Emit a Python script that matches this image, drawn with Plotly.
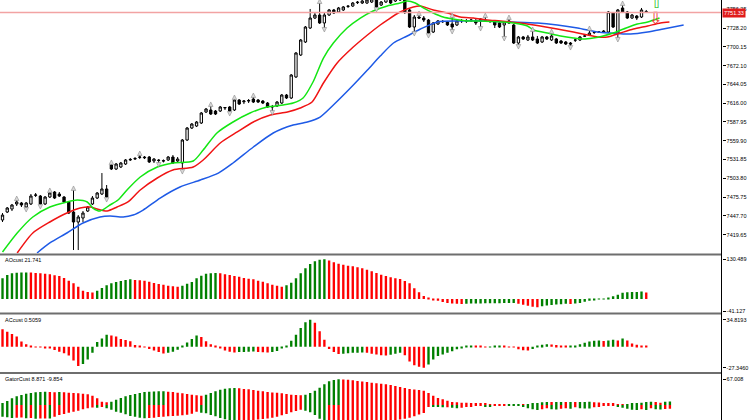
import plotly.graph_objects as go

# ---------------- price candles ----------------
opens = [7441.6, 7453.5, 7458.0, 7465.5, 7467.0, 7461.0, 7465.5, 7478.4, 7477.4, 7465.5,
         7475.9, 7483.4, 7480.4, 7475.9, 7468.5, 7453.5, 7438.6, 7444.6, 7455.0, 7465.5,
         7474.4, 7480.4, 7487.9, 7523.7, 7517.7, 7520.7, 7525.2, 7531.2, 7532.6, 7535.0,
         7535.6, 7535.6, 7529.7, 7531.0, 7530.2, 7531.2, 7535.6, 7529.7, 7526.7, 7561.0,
         7578.9, 7581.9, 7586.4, 7602.8, 7605.8, 7604.3, 7604.3, 7608.8, 7610.3, 7605.8,
         7620.7, 7618.0, 7619.2, 7622.2, 7620.7, 7619.2, 7616.2, 7611.0, 7611.8, 7616.2,
         7628.2, 7623.7, 7655.1, 7687.9, 7707.3, 7728.2, 7743.1, 7747.6, 7735.7, 7747.6,
         7755.1, 7752.1, 7755.1, 7760.3, 7761.0, 7766.0, 7765.5, 7765.5, 7767.0, 7770.0,
         7762.5, 7767.0, 7771.5, 7768.5, 7770.0, 7770.0, 7755.1, 7729.7, 7744.6, 7743.1,
         7740.1, 7722.2, 7734.2, 7737.5, 7737.2, 7734.2, 7732.7, 7738.7, 7739.4, 7739.4,
         7738.7, 7741.6, 7740.1, 7738.7, 7737.2, 7735.7, 7732.7, 7738.7, 7732.7, 7705.8,
         7714.8, 7710.3, 7714.8, 7711.8, 7707.3, 7714.8, 7710.3, 7711.8, 7708.8, 7707.3,
         7705.8, 7710.0, 7710.3, 7716.0, 7717.8, 7721.5, 7722.0, 7723.7, 7722.2, 7750.6,
         7720.7, 7758.1, 7752.1, 7743.1, 7746.1, 7744.6, 7752.8]
highs = [7452.0, 7461.0, 7465.5, 7471.4, 7468.5, 7468.5, 7480.4, 7481.9, 7478.9, 7477.4,
         7483.4, 7484.9, 7483.4, 7477.4, 7470.0, 7486.4, 7449.0, 7455.0, 7462.5, 7477.4,
         7483.4, 7511.7, 7493.8, 7525.2, 7526.7, 7528.2, 7532.6, 7534.1, 7535.6, 7538.6,
         7537.1, 7537.1, 7534.1, 7532.6, 7532.0, 7537.1, 7538.6, 7535.6, 7562.5, 7580.4,
         7586.4, 7589.4, 7602.8, 7608.8, 7611.8, 7605.8, 7611.8, 7610.3, 7611.8, 7622.2,
         7622.2, 7620.7, 7622.2, 7625.2, 7622.2, 7620.7, 7617.7, 7613.3, 7619.2, 7629.7,
         7629.7, 7659.5, 7692.4, 7711.8, 7731.2, 7756.6, 7750.6, 7765.5, 7750.6, 7756.6,
         7756.6, 7759.6, 7761.0, 7762.5, 7767.0, 7768.5, 7770.0, 7771.5, 7773.0, 7773.0,
         7768.5, 7774.5, 7774.5, 7776.0, 7777.5, 7774.5, 7756.6, 7747.6, 7747.6, 7746.1,
         7741.6, 7737.2, 7740.1, 7740.1, 7738.7, 7744.6, 7740.1, 7741.6, 7741.6, 7741.6,
         7741.6, 7742.5, 7744.6, 7740.1, 7738.7, 7737.2, 7738.7, 7741.6, 7734.2, 7716.3,
         7716.3, 7717.8, 7723.7, 7716.3, 7716.3, 7716.3, 7720.7, 7713.3, 7710.3, 7708.8,
         7707.3, 7711.8, 7716.3, 7717.8, 7725.2, 7723.7, 7723.7, 7725.2, 7753.6, 7752.1,
         7756.6, 7762.5, 7753.6, 7749.1, 7747.6, 7758.1, 7755.1]
lows = [7438.6, 7452.0, 7455.0, 7462.5, 7461.0, 7459.5, 7464.0, 7475.9, 7464.0, 7464.0,
        7474.4, 7472.9, 7475.9, 7467.0, 7450.5, 7396.8, 7396.8, 7438.6, 7453.5, 7464.0,
        7472.9, 7478.9, 7474.4, 7516.2, 7516.2, 7519.2, 7523.7, 7529.7, 7531.2, 7532.6,
        7532.6, 7526.7, 7526.7, 7526.7, 7527.5, 7529.7, 7525.2, 7528.2, 7516.2, 7559.5,
        7577.4, 7580.4, 7584.9, 7601.3, 7598.3, 7598.3, 7602.8, 7605.8, 7602.8, 7604.3,
        7613.3, 7614.7, 7616.2, 7616.2, 7616.2, 7614.7, 7608.8, 7604.3, 7610.3, 7614.7,
        7622.2, 7622.2, 7653.6, 7686.4, 7705.8, 7726.7, 7741.6, 7734.2, 7728.2, 7746.1,
        7749.1, 7750.6, 7753.6, 7758.1, 7759.6, 7764.0, 7764.0, 7764.0, 7765.5, 7758.1,
        7761.0, 7765.5, 7764.0, 7767.0, 7768.5, 7749.1, 7728.2, 7722.2, 7741.6, 7737.2,
        7719.2, 7720.7, 7732.7, 7735.7, 7731.2, 7725.2, 7731.2, 7735.7, 7735.7, 7737.2,
        7732.7, 7729.7, 7737.2, 7735.7, 7728.2, 7728.2, 7714.8, 7734.2, 7704.3, 7702.8,
        7710.3, 7708.8, 7708.8, 7704.3, 7705.8, 7710.3, 7708.8, 7704.3, 7704.3, 7702.8,
        7701.3, 7707.3, 7708.8, 7714.8, 7716.3, 7719.2, 7720.7, 7720.7, 7720.7, 7728.2,
        7713.3, 7750.6, 7741.6, 7741.6, 7740.1, 7743.1, 7750.6]
closes = [7449.0, 7459.5, 7464.0, 7468.5, 7464.0, 7467.0, 7477.4, 7478.9, 7465.5, 7475.9,
          7481.9, 7474.4, 7477.4, 7468.5, 7452.0, 7438.6, 7446.1, 7452.0, 7461.0, 7474.4,
          7481.9, 7487.9, 7475.9, 7517.7, 7525.2, 7526.7, 7531.2, 7532.0, 7533.4, 7535.6,
          7534.6, 7528.2, 7532.6, 7530.5, 7529.7, 7535.6, 7526.7, 7532.6, 7561.0, 7578.9,
          7584.9, 7587.9, 7601.3, 7607.3, 7599.8, 7599.8, 7610.3, 7609.5, 7604.3, 7620.7,
          7614.7, 7619.2, 7619.9, 7617.7, 7617.7, 7616.2, 7610.3, 7610.5, 7617.7, 7628.2,
          7623.7, 7658.0, 7690.9, 7710.3, 7729.7, 7743.1, 7747.6, 7735.7, 7747.6, 7755.1,
          7750.6, 7758.1, 7759.6, 7760.8, 7765.5, 7766.7, 7768.5, 7770.0, 7771.5, 7759.6,
          7767.0, 7773.0, 7765.5, 7774.5, 7776.0, 7752.1, 7729.7, 7744.6, 7743.1, 7740.1,
          7720.7, 7735.7, 7738.7, 7738.0, 7732.7, 7729.7, 7738.7, 7739.4, 7738.7, 7740.1,
          7735.7, 7738.7, 7738.7, 7738.0, 7732.7, 7729.7, 7737.2, 7735.7, 7705.8, 7714.8,
          7711.8, 7714.8, 7710.3, 7705.8, 7714.8, 7711.8, 7716.3, 7705.8, 7705.8, 7704.3,
          7704.3, 7710.3, 7714.8, 7716.3, 7720.7, 7722.0, 7722.2, 7721.5, 7752.1, 7729.7,
          7755.1, 7752.1, 7743.1, 7747.6, 7743.1, 7755.1, 7751.33]
bars = list(range(len(closes)))
last_price = 7751.33

# alligator lines (bar index, price) read at the bends
lips_x = [0, 3.1, 6.4, 10, 13.6, 15.8, 17.9, 19.1, 20.6, 22.7, 24.4, 26.3, 29.1, 32.7, 36,
          40.3, 42.4, 45.3, 48.7, 52.3, 55.9, 59.3, 61.4, 63.5, 65.6, 67.8, 69.9, 72.8, 75.6,
          78.3, 81.3, 84, 85.5, 87.2, 88.9, 91, 93.1, 95.2, 98.2, 101, 105.2, 107.9, 110.9,
          112.2, 115.1, 117.9, 120.6, 122.7, 124.8, 126.9, 129, 131.2, 134.1, 136.3, 138.8]
lips_y = [7393.8, 7422.2, 7446.1, 7461.0, 7468.5, 7471.4, 7468.5, 7459.5, 7455.0, 7464.0,
          7471.4, 7486.4, 7505.8, 7520.7, 7526.7, 7529.7, 7546.1, 7571.5, 7587.9, 7601.3,
          7610.3, 7613.3, 7616.2, 7623.7, 7647.6, 7683.4, 7705.8, 7728.2, 7743.1, 7753.6,
          7761.0, 7765.5, 7768.5, 7765.5, 7758.1, 7750.6, 7744.6, 7741.6, 7738.7, 7738.7,
          7737.2, 7735.7, 7731.2, 7725.2, 7720.7, 7716.3, 7713.3, 7711.8, 7713.3, 7716.3,
          7720.7, 7726.7, 7734.2, 7737.2, 7743.1]
teeth_x = [3.1, 6.4, 10, 13.6, 16.4, 18.5, 20, 22.1, 24.2, 26.5, 29.1, 32.7, 36, 40.3, 42.4,
           46, 49.6, 53, 56.6, 60.2, 62.9, 65.4, 67.8, 70.7, 74.1, 77.1, 79.8, 81.3, 84,
           86.8, 88.3, 91, 94, 96.7, 99.5, 102.4, 105.2, 109.4, 113.6, 117.2, 120.6, 123.6,
           125.7, 127.8, 130.5, 133.3, 136.3, 139, 140.9]
teeth_y = [7392.3, 7422.2, 7438.6, 7452.0, 7459.5, 7461.0, 7458.0, 7455.0, 7461.0, 7468.5,
           7486.4, 7504.3, 7516.2, 7520.7, 7531.2, 7556.5, 7573.0, 7587.9, 7598.3, 7602.8,
           7608.8, 7617.7, 7646.1, 7676.0, 7699.8, 7717.8, 7732.7, 7740.1, 7752.1, 7759.6,
           7761.0, 7755.1, 7750.6, 7744.6, 7743.1, 7740.1, 7738.7, 7735.7, 7731.2, 7726.7,
           7722.2, 7717.8, 7714.8, 7714.8, 7720.7, 7726.7, 7731.2, 7735.7, 7737.2]
jaw_x = [7.3, 10, 13.6, 17, 20.6, 22.7, 25.5, 27.6, 29.7, 33.3, 37.5, 41.8, 45.6, 48.7, 53,
         57.2, 61.4, 64.4, 67.1, 69.9, 73.5, 77.1, 79.8, 82.6, 85.5, 88.3, 91.9, 96.1, 101.6,
         107.3, 113, 117.2, 121.5, 125.7, 128.4, 132.7, 136.3, 139.6, 143.9]
jaw_y = [7392.3, 7407.3, 7422.2, 7437.1, 7446.1, 7447.6, 7446.1, 7449.0, 7456.5, 7474.4,
         7490.9, 7501.3, 7511.7, 7526.7, 7550.6, 7571.5, 7583.4, 7587.9, 7595.3, 7613.3,
         7638.6, 7665.5, 7686.4, 7705.8, 7716.3, 7726.7, 7737.2, 7738.7, 7738.7, 7737.2,
         7735.7, 7732.7, 7728.2, 7722.2, 7720.7, 7719.2, 7722.2, 7726.7, 7732.7]

# fractals and the two signal arrows
frac_up = [3, 10, 15, 23, 29, 44, 49, 53, 67, 88, 95, 102, 107, 112, 116, 124, 131]
frac_dn = [5, 8, 22, 33, 38, 48, 57, 68, 79, 87, 90, 95, 101, 106, 109, 120, 130]
sig_up_x, sig_up_y = [138.2], [7765.0]
sig_dn_x, sig_dn_y = [138.0], [7740.1]

price_ticks = [7419.65, 7447.70, 7475.75, 7503.80, 7531.85, 7559.90, 7587.95,
               7616.00, 7644.05, 7672.10, 7700.15, 7728.20, 7756.25]

# ---------------- oscillators ----------------
ao = [68.0, 78.9, 84.4, 86.6, 86.9, 87.2, 86.8, 85.5, 84.3, 83.3,
      81.0, 77.8, 75.6, 69.0, 60.3, 51.5, 40.5, 27.4, 23.0, 21.5,
      27.0, 36.2, 44.9, 51.5, 55.9, 59.2, 62.4, 64.6, 62.4, 61.3,
      60.3, 57.0, 52.6, 49.3, 47.1, 43.8, 41.6, 40.5, 43.8, 50.4,
      55.9, 67.9, 76.7, 83.3, 84.4, 85.5, 84.4, 81.1, 78.9, 75.6,
      73.4, 69.0, 66.8, 64.6, 60.3, 57.0, 51.5, 47.1, 43.8, 40.5,
      44.9, 53.7, 67.9, 84.4, 100.8, 115.0, 123.8, 129.3, 130.489, 126.5,
      120.5, 116.1, 112.8, 109.6, 107.4, 104.1, 100.8, 96.4, 90.9, 85.5,
      80.0, 75.6, 71.2, 67.9, 65.7, 59.2, 51.5, 35.1, 21.9, 9.9,
      2.2, -2.2, -5.5, -9.9, -13.0, -15.0, -16.0, -16.4, -15.3, -15.0,
      -14.8, -14.5, -14.3, -14.0, -13.8, -13.6, -13.4, -13.2, -13.0, -15.5,
      -19.0, -22.5, -25.5, -27.4, -24.0, -21.0, -19.5, -18.0, -17.0, -16.0,
      -16.5, -15.0, -13.0, -9.0, -5.5, -3.3, -1.1, 1.1, 3.3, 8.8,
      14.2, 20.8, 22.5, 23.0, 23.4, 24.5, 21.741]
ac = [22.4, 19.4, 16.3, 13.0, 6.5, 3.0, 0.8, 0.2, -0.5, -1.3,
      -2.5, -4.3, -6.5, -8.6, -11.5, -18.0, -25.0, -22.5, -16.5, -7.7,
      6.0, 10.5, 15.5, 14.5, 13.0, 10.0, 8.5, 7.0, 2.0, 0.4,
      -1.0, -3.0, -5.0, -7.0, -8.8, -8.0, -6.5, -4.0, 1.5, 5.5,
      10.0, 14.5, 12.5, 7.0, 3.0, 0.5, -2.5, -5.0, -6.5, -7.5,
      -7.0, -6.8, -6.6, -6.4, -7.0, -7.3, -7.6, -7.0, -5.5, -2.5,
      0.5, 7.5, 15.5, 24.0, 31.5, 34.8193, 31.0, 20.0, 9.0, -3.0,
      -7.0, -9.5, -9.0, -8.5, -8.0, -7.7, -7.5, -8.0, -9.0, -10.0,
      -11.0, -11.5, -10.5, -9.0, -8.0, -11.0, -19.0, -24.0, -26.0, -27.346,
      -23.0, -16.5, -12.0, -10.0, -8.0, -6.0, -3.5, -1.5, 0.3, 1.2,
      0.8, 0.3, -0.2, 0.2, 0.5, 0.8, 0.3, -0.2, -1.0, -3.5,
      -4.5, -5.0, -3.0, 0.5, 2.5, 3.0, 2.8, 2.3, 1.5, 0.5,
      0.8, 1.5, 3.0, 5.0, 6.5, 7.5, 7.8, 7.4, 8.0, 9.0,
      8.0, 10.5, 8.0, 4.0, 2.5, 1.5, 0.5059]
gator_up = [4.3, 10.4, 17.4, 22.6, 26.1, 29.5, 31.3, 33.0, 33.9, 34.8,
            33.9, 33.5, 33.9, 33.0, 32.2, 31.3, 30.4, 29.5, 27.8, 24.3,
            17.4, 8.7, 7.0, 8.7, 13.9, 18.2, 22.6, 26.1, 28.7, 31.3,
            33.9, 34.8, 35.2, 35.6, 36.1, 34.8, 33.9, 32.2, 30.4, 28.7,
            26.9, 25.2, 24.3, 26.9, 31.3, 35.6, 40.0, 42.6, 43.5, 44.3,
            43.5, 41.7, 40.8, 39.1, 37.4, 35.6, 33.9, 32.6, 31.7, 30.4,
            28.7, 26.9, 26.1, 25.6, 26.9, 31.3, 37.4, 45.2, 53.9, 61.7,
            65.2, 67.008, 66.5, 65.6, 64.3, 62.6, 61.3, 60.0, 58.2, 56.9,
            55.6, 53.9, 52.1, 49.5, 46.9, 44.3, 41.7, 40.4, 39.1, 37.4,
            31.3, 24.3, 18.2, 14.8, 11.3, 7.8, 7.0, 6.1, 5.6, 4.3,
            3.9, 3.5, 3.0, 2.6, 2.2, 1.7, 1.3, 1.7, 1.9, 2.1,
            1.7, 2.6, 3.0, 5.2, 7.0, 7.8, 7.6, 7.8, 8.0, 7.7,
            7.9, 7.6, 7.8, 8.0, 8.2, 7.4, 6.5, 5.2, 4.3, 3.5,
            2.2, 1.3, 1.7, 3.5, 4.8, 6.1, 7.8, 8.7, 7.8, 6.1,
            8.3, 8.871]
gator_dn = [-30.4, -32.0, -33.9, -33.0, -32.5, -34.8, -34.0, -36.0, -35.5, -35.0,
            -35.5, -30.4, -26.1, -23.5, -20.0, -17.4, -14.8, -11.3, -8.7, -6.5,
            -7.0, -3.0, -8.7, -12.2, -17.4, -20.0, -24.3, -28.7, -30.4, -33.0,
            -34.8, -34.0, -33.0, -31.3, -30.4, -29.5, -28.7, -27.8, -26.9, -25.2,
            -22.6, -17.4, -20.0, -21.7, -26.1, -29.5, -33.9, -37.4, -40.0, -42.0,
            -41.5, -41.0, -40.5, -39.5, -38.0, -36.5, -35.0, -33.0, -30.4, -27.0,
            -23.5, -19.1, -15.6, -12.2, -14.8, -19.1, -26.1, -36.0, -47.0, -46.5,
            -46.0, -45.5, -45.0, -44.5, -44.0, -43.5, -43.0, -42.5, -42.0, -41.5,
            -41.0, -40.5, -40.2, -39.8, -38.0, -36.0, -33.0, -29.0, -25.0, -21.0,
            -4.3, -4.8, -5.5, -6.1, -6.0, -7.0, -8.7, -7.0, -4.5, -3.5,
            -2.6, -2.4, -3.0, -3.5, -2.2, -1.0, -0.6, -0.8, -1.0, -1.2,
            -4.3, -8.7, -11.3, -13.0, -11.3, -8.7, -11.3, -11.5, -9.5, -8.7,
            -9.5, -6.1, -8.7, -9.0, -9.2, -6.1, -4.3, -2.6, -1.7, -1.3,
            -4.3, -7.0, -9.5, -12.2, -13.0, -11.3, -13.0, -8.7, -11.3, -11.5,
            -10.5, -9.854]
gator_bars = list(range(len(gator_up)))

GREEN, RED = "#008000", "#ff0000"
FONT = "Liberation Sans"
W, H = 752, 420
XR = [-0.53, 151.9]          # bar index range across the plot width
XDOM = [0, 721.5 / W]


def rising_colors(vals, first):
    # MT4 colouring: green when the bar grows versus the previous one
    cols = [first]
    for a, b in zip(vals[:-1], vals[1:]):
        cols.append(GREEN if b > a else RED)
    return cols


ao_col = rising_colors(ao, GREEN)
ac_col = rising_colors(ac, RED)
gu_col = rising_colors(gator_up, GREEN)
gd_col = rising_colors([-v for v in gator_dn], GREEN)

fig = go.Figure()

fig.add_trace(go.Candlestick(
    x=bars, open=opens, high=highs, low=lows, close=closes,
    increasing=dict(line=dict(color="black", width=1), fillcolor="white"),
    decreasing=dict(line=dict(color="black", width=1), fillcolor="black"),
    whiskerwidth=0, showlegend=False, hoverinfo="skip",
))
for xs, ys, col in [(jaw_x, jaw_y, "#1e5ae6"), (teeth_x, teeth_y, "#f01414"),
                    (lips_x, lips_y, "#14e614")]:
    fig.add_trace(go.Scatter(x=xs, y=ys, mode="lines", showlegend=False,
                             line=dict(color=col, width=1.5, shape="spline", smoothing=0.7)))

fig.add_trace(go.Scatter(
    x=frac_up, y=[highs[i] + 6 for i in frac_up], mode="markers", showlegend=False,
    marker=dict(symbol="arrow-up", size=4.5, color="#d8d8d8", line=dict(color="#8c8c8c", width=0.6)),
))
fig.add_trace(go.Scatter(
    x=frac_dn, y=[lows[i] - 6 for i in frac_dn], mode="markers", showlegend=False,
    marker=dict(symbol="arrow-down", size=4.5, color="#d8d8d8", line=dict(color="#8c8c8c", width=0.6)),
))
fig.add_trace(go.Scatter(x=sig_up_x, y=sig_up_y, mode="text", text=["⇧"], showlegend=False,
                         textfont=dict(family="DejaVu Sans", size=17, color="#3cc83c")))
fig.add_trace(go.Scatter(x=sig_dn_x, y=sig_dn_y, mode="text", text=["⇩"], showlegend=False,
                         textfont=dict(family="DejaVu Sans", size=17, color="#f03232")))

fig.add_trace(go.Bar(x=bars, y=ao, marker=dict(color=ao_col, line=dict(width=0)),
                     width=0.5, xaxis="x2", yaxis="y2", showlegend=False))
fig.add_trace(go.Bar(x=bars, y=ac, marker=dict(color=ac_col, line=dict(width=0)),
                     width=0.5, xaxis="x3", yaxis="y3", showlegend=False))
fig.add_trace(go.Bar(x=gator_bars, y=gator_up, marker=dict(color=gu_col, line=dict(width=0)),
                     width=0.5, xaxis="x4", yaxis="y4", showlegend=False))
fig.add_trace(go.Bar(x=gator_bars, y=gator_dn, marker=dict(color=gd_col, line=dict(width=0)),
                     width=0.5, xaxis="x4", yaxis="y4", showlegend=False))

tickfont = dict(family=FONT, size=5.5, color="black")
xcommon = dict(range=XR, domain=XDOM, visible=False, fixedrange=True)
ycommon = dict(side="right", showgrid=False, zeroline=False, showline=False,
               ticks="outside", ticklen=3, tickwidth=1, tickcolor="black", tickfont=tickfont)

fig.update_layout(
    width=W, height=H, margin=dict(l=0, r=0, t=0, b=0),
    template="none", paper_bgcolor="white", plot_bgcolor="white",
    barmode="overlay", showlegend=False,
    xaxis=dict(**xcommon, rangeslider=dict(visible=False)),
    xaxis2=dict(**xcommon, anchor="y2"),
    xaxis3=dict(**xcommon, anchor="y3"),
    xaxis4=dict(**xcommon, anchor="y4"),
    yaxis=dict(**ycommon, domain=[1 - 253.5 / H, 1], range=[7391.6, 7770.0], anchor="x",
               tickvals=price_ticks, ticktext=[f"{v:.2f}" for v in price_ticks]),
    yaxis2=dict(**ycommon, domain=[1 - 312.5 / H, 1 - 255.5 / H], range=[-44.4, 143.0], anchor="x2",
                tickvals=[130.489, -41.127], ticktext=["130.489", "-41.127"]),
    yaxis3=dict(**ycommon, domain=[1 - 372 / H, 1 - 314.5 / H], range=[-32.7, 41.5], anchor="x3",
                tickvals=[34.8193, -27.346], ticktext=["34.8193", "-27.3460"]),
    yaxis4=dict(**ycommon, domain=[0, 1 - 374 / H], range=[-39.1, 80.8], anchor="x4",
                tickvals=[67.008], ticktext=["67.008"]),
)

# current price line and its label
fig.add_shape(type="line", xref="paper", yref="y", x0=0, x1=XDOM[1], y0=last_price, y1=last_price,
              line=dict(color="#f2a3a3", width=1.5))
fig.add_annotation(xref="paper", yref="y", x=722 / W, y=last_price, xanchor="left", yanchor="middle",
                   text=f"{last_price:.2f}", showarrow=False, bgcolor="#e01b1b", borderpad=1,
                   font=dict(family=FONT, size=5.5, color="white"))

# panel separators and the price-scale border
for top, bot in [(253.5, 255.5), (312.5, 314.5), (372, 374)]:
    fig.add_shape(type="rect", xref="paper", yref="paper", x0=0, x1=XDOM[1],
                  y0=1 - bot / H, y1=1 - top / H, fillcolor="#6e6e6e", line=dict(width=0), layer="above")
fig.add_shape(type="line", xref="paper", yref="paper", x0=XDOM[1], x1=XDOM[1], y0=0, y1=1,
              line=dict(color="black", width=1))

# indicator captions
for text, ypix in [("AOcust 21.741", 260), ("ACcust 0.5059", 319.5), ("GatorCust 8.871 -9.854", 379)]:
    fig.add_annotation(xref="paper", yref="paper", x=3 / W, y=1 - ypix / H, xanchor="left",
                       yanchor="middle", text=text, showarrow=False,
                       font=dict(family=FONT, size=5.5, color="black"))

# the page body has a default 8px margin; drop it so the chart fills the window
fig.write_html("out.html", config={"displayModeBar": False},
               post_script="document.body.style.margin='0px';")
